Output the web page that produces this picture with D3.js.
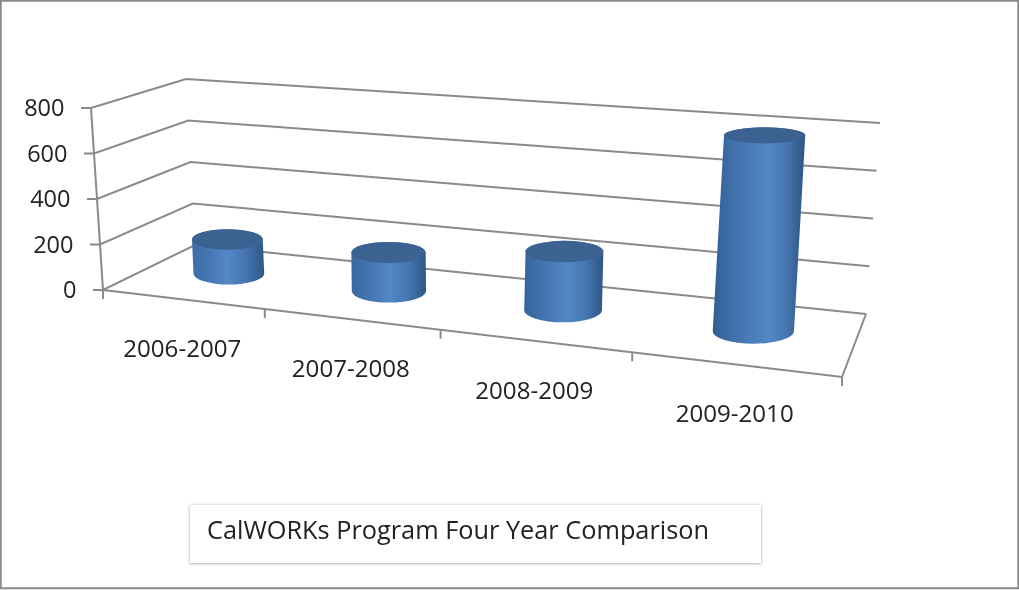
<!DOCTYPE html>
<html><head><meta charset="utf-8">
<script src="https://cdn.jsdelivr.net/npm/d3@7"></script>
<style>html,body{margin:0;padding:0;background:#fff}svg{display:block}</style>
</head><body><svg id="c" width="1019" height="590"></svg>
<script>
const categories = ["2006-2007","2007-2008","2008-2009","2009-2010"];
const values = [155,170,250,805];
const yTicks = [0,200,400,600,800];
const titleText = "CalWORKs Program Four Year Comparison";

const W=1019,H=590;
const svg=d3.select("#c");
const defs=svg.append("defs");
const soft=defs.append("filter").attr("id","soft").attr("x","-2%").attr("y","-2%").attr("width","104%").attr("height","104%");
soft.append("feGaussianBlur").attr("stdDeviation",0.7);
const shadow=defs.append("filter").attr("id","shadow").attr("x","-3%").attr("y","-15%").attr("width","106%").attr("height","130%");
shadow.append("feDropShadow").attr("dx",0).attr("dy",0.5).attr("stdDeviation",1.6).attr("flood-color","#000").attr("flood-opacity",0.4);

// perspective box (projection of the chart's 3D plot volume)
const box={fl0:[103,290],fr0:[842,377],bl0:[195,245],br0:[866,314],
           fl1:[91,108],fr1:[858,170],bl1:[186,79],br1:[880,123]};
const x=d3.scaleBand().domain(categories).range([0,1]);
const y=d3.scaleLinear().domain([0,800]).range([0,1]);
const warp=u=>u/(u+1.189*(1-u));
const mix=(a,b,t)=>[a[0]+(b[0]-a[0])*t,a[1]+(b[1]-a[1])*t];
function proj(u,v,val){
  const s=warp(u),h=y(val);
  const f0=mix(box.fl0,box.fr0,s),b0=mix(box.bl0,box.br0,s);
  const f1=mix(box.fl1,box.fr1,s),b1=mix(box.bl1,box.br1,s);
  return mix(mix(f0,b0,v),mix(f1,b1,v),h);
}
const root=svg.append("g").attr("filter","url(#soft)");
root.append("rect").attr("width",W).attr("height",H).attr("fill","#fff");
const line=d3.line();
const gridColor="#8a8a8a";
const walls=root.append("g").attr("fill","none").attr("stroke",gridColor).attr("stroke-width",2);

// wall gridlines + left-hand ticks
walls.selectAll("path.g").data(yTicks).join("path").attr("class","g")
  .attr("d",t=>{const a=proj(0,0,t);return line([[a[0]-10,a[1]],a,proj(0,1,t),proj(1,1,t)]);});
// value axis
walls.append("path").attr("d",line([proj(0,0,0),proj(0,0,800)]));
// floor
walls.append("path").attr("d",line([proj(0,0,0),proj(1,0,0),proj(1,1,0)]));
// category ticks
const catEdges=d3.range(categories.length+1).map(i=>i/categories.length);
walls.selectAll("path.t").data(catEdges).join("path").attr("class","t")
  .attr("d",u=>{const a=proj(u,0,0);return line([a,[a[0],a[1]+9]]);});

// cylinders
const barDepth=0.55;
const rxScale=d3.scaleLinear().domain([0,1]).range([34.5,41.5]);
const ratio=d3.scaleLinear().domain([0,800]).range([0.31,0.2]);
const cyl=root.append("g");
categories.forEach((c,i)=>{
  const v=values[i],u=x(c)+x.bandwidth()/2;
  const b=proj(u,barDepth,0),t=proj(u,barDepth,v);
  const rx=rxScale(u);
  const ryB=rx*ratio(0),ryT=rx*ratio(v);
  const id="cg"+i,hi=0.46+0.16*u;
  const left=d3.interpolateRgb("#3f6fa9","#2f5d90")(u);
  const g=defs.append("linearGradient").attr("id",id).attr("x1",0).attr("x2",1).attr("y1",0).attr("y2",0);
  [[0,left],[hi*0.5,"#4576b2"],[hi,"#5387c8"],[hi+(1-hi)*0.5,"#4675af"],[0.93,"#345f92"],[1,"#2f5785"]]
    .forEach(s=>g.append("stop").attr("offset",s[0]).attr("stop-color",s[1]));
  cyl.append("path").attr("fill",`url(#${id})`)
    .attr("d",`M${t[0]-rx},${t[1]}L${b[0]-rx},${b[1]}A${rx},${ryB} 0 0 0 ${b[0]+rx},${b[1]}L${t[0]+rx},${t[1]}A${rx},${ryT} 0 0 0 ${t[0]-rx},${t[1]}Z`);
  cyl.append("ellipse").attr("cx",t[0]).attr("cy",t[1]).attr("rx",rx).attr("ry",ryT).attr("fill","#3a6291");
});

// text
const font="'Open Sans','Noto Sans',sans-serif";
root.append("g").selectAll("text").data(yTicks).join("text")
  .attr("x",t=>proj(0,0,t)[0]-26.5).attr("y",t=>proj(0,0,t)[1]+8)
  .attr("text-anchor","end").attr("font-family",font).attr("font-size",23.5).attr("fill","#222")
  .text(d3.format("d"));
root.append("g").selectAll("text").data(categories).join("text")
  .attr("x",c=>proj(x(c)+x.bandwidth()/2,0,0)[0]).attr("y",c=>proj(x(c)+x.bandwidth()/2,0,0)[1]+58)
  .attr("text-anchor","middle").attr("font-family",font).attr("font-size",23).attr("fill","#222")
  .attr("textLength",118).attr("lengthAdjust","spacingAndGlyphs").text(c=>c);

// title box
root.append("rect").attr("x",190).attr("y",505).attr("width",571).attr("height",58)
  .attr("fill","#fff").attr("filter","url(#shadow)");
root.append("text").attr("x",207).attr("y",539).attr("font-family",font).attr("font-size",25.5)
  .attr("fill","#222").attr("textLength",502).attr("lengthAdjust","spacingAndGlyphs").text(titleText);

// outer frame
root.append("rect").attr("x",0.75).attr("y",0.75).attr("width",W-1.5).attr("height",H-2.5)
  .attr("fill","none").attr("stroke","#8a8a8a").attr("stroke-width",2);
</script></body></html>
